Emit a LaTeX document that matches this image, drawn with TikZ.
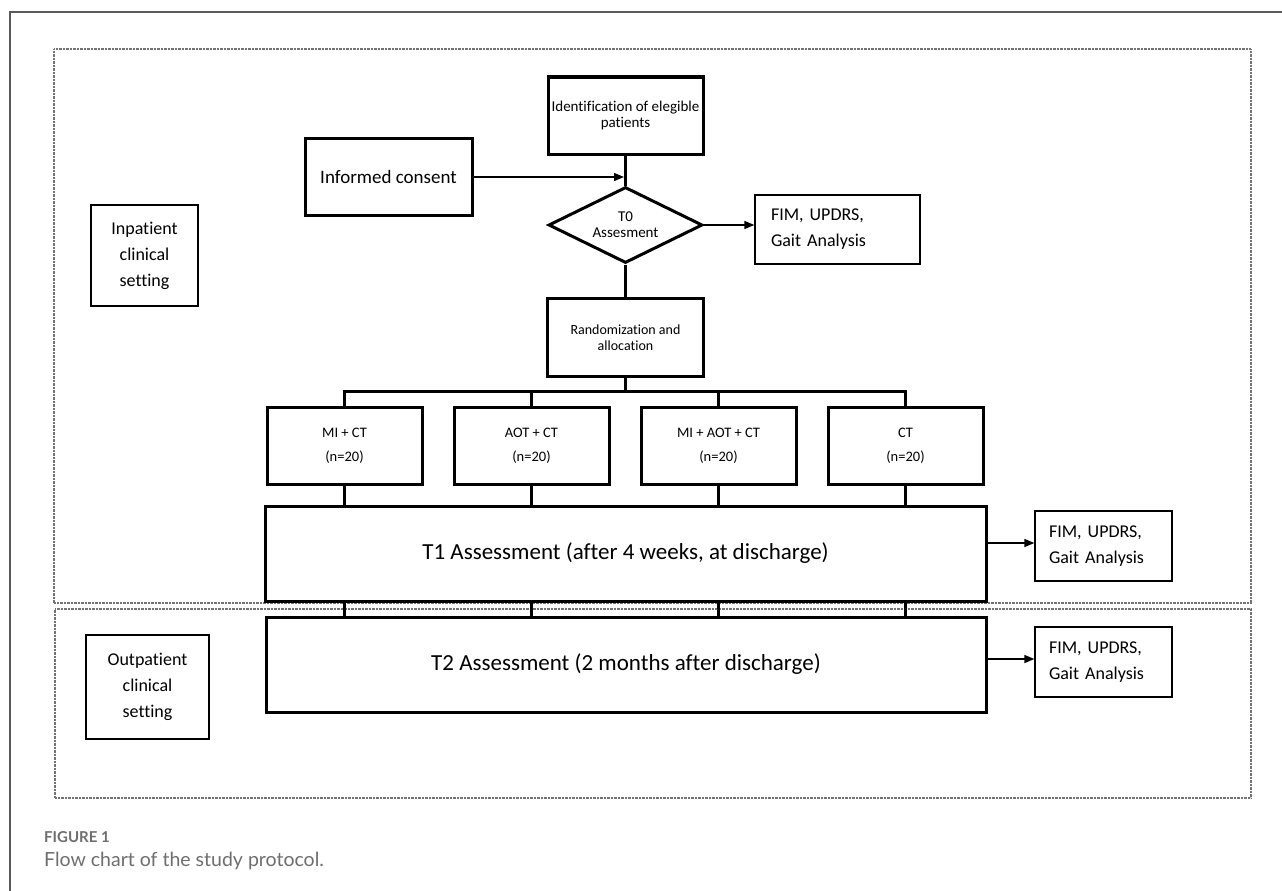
\documentclass[tikz,border=0pt]{standalone}
\usepackage{fontspec}
\setmainfont{Carlito}[Ligatures=NoCommon]
\newfontfamily\capfont{Lato}
\usetikzlibrary{shapes.geometric,arrows.meta}
\definecolor{capgray}{HTML}{6E6E6E}
\begin{document}
\begin{tikzpicture}[x=1pt,y=-1pt,
  mainbox/.style={draw,line width=3pt,rectangle,inner sep=0pt,align=center},
  thinbox/.style={draw,line width=1.3pt,rectangle,inner sep=0pt},
  tree/.style={line width=3pt},
  arr/.style={line width=1.3pt,-{Triangle[length=10pt,width=8pt]}},
  region/.style={draw=black!55,line width=1.4pt,dash pattern=on 0.7pt off 0.7pt},
]
\useasboundingbox (0,0) rectangle (1282,891);
% outer frame
\draw[line width=2pt,draw=black!65] (10,891) -- (10,12) -- (1282,12);
% regions
\node[region,rectangle,minimum width=1197pt,minimum height=554pt,inner sep=0pt] (inreg) at (652.5,326) {};
\node[region,rectangle,minimum width=1196pt,minimum height=189pt,inner sep=0pt] (outreg) at (653,703.5) {};
% labels
\node[thinbox,minimum width=107pt,minimum height=101pt,align=center,font=\fontsize{18}{26}\selectfont] (inlab) at (144.5,255.5) {Inpatient\\clinical\\setting};
\node[thinbox,minimum width=123pt,minimum height=104pt,align=center,font=\fontsize{18}{26}\selectfont] (outlab) at (147.5,687) {Outpatient\\clinical\\setting};
% top chain
\node[mainbox,minimum width=155pt,minimum height=77pt,font=\fontsize{15}{15.5}\selectfont] (ident) at (625.5,115.5) {Identification of elegible\\patients};
\node[mainbox,minimum width=167pt,minimum height=77pt,font=\fontsize{19}{20}\selectfont] (consent) at (388.5,177) {Informed consent};
\node[draw,line width=3pt,diamond,aspect=2,inner sep=0pt,minimum width=154pt,minimum height=76pt,align=center,font=\fontsize{15}{16}\selectfont] (t0) at (625.5,225) {T0\\Assesment};
\node[thinbox,minimum width=165pt,minimum height=69pt,text width=133pt,align=left,font=\fontsize{18}{26}\selectfont] (fim1) at (837.5,229.5) {FIM, UPDRS,\\Gait Analysis};
\node[mainbox,minimum width=156pt,minimum height=78pt,font=\fontsize{14}{16}\selectfont] (rand) at (625.5,337.5) {Randomization and\\allocation};
% groups
\node[mainbox,minimum width=155pt,minimum height=77pt,font=\fontsize{14.5}{24}\selectfont] (g1) at (344.5,445.5) {MI + CT\\(n=20)};
\node[mainbox,minimum width=155pt,minimum height=77pt,font=\fontsize{14.5}{24}\selectfont] (g2) at (531.5,445.5) {AOT + CT\\(n=20)};
\node[mainbox,minimum width=155pt,minimum height=77pt,font=\fontsize{14.5}{24}\selectfont] (g3) at (718.5,445.5) {MI + AOT + CT\\(n=20)};
\node[mainbox,minimum width=155pt,minimum height=77pt,font=\fontsize{14.5}{24}\selectfont] (g4) at (905.5,445.5) {CT\\(n=20)};
% assessments
\node[mainbox,minimum width=721pt,minimum height=95pt,font=\fontsize{23}{25}\selectfont] (t1) at (625.5,553.5) {T1 Assessment (after 4 weeks, at discharge)};
\node[mainbox,minimum width=720pt,minimum height=95pt,font=\fontsize{23}{25}\selectfont] (t2) at (626,664.5) {T2 Assessment (2 months after discharge)};
\node[thinbox,minimum width=137pt,minimum height=70pt,text width=109pt,align=left,font=\fontsize{18}{26}\selectfont] (fim2) at (1103.5,546) {FIM, UPDRS,\\Gait Analysis};
\node[thinbox,minimum width=137pt,minimum height=70pt,text width=109pt,align=left,font=\fontsize{18}{26}\selectfont] (fim3) at (1103.5,662) {FIM, UPDRS,\\Gait Analysis};
% connectors
\draw[tree] (ident.south) -- (t0.north);
\draw[arr,shorten >=1.5pt] (consent.east) -- (consent.east -| ident.south);
\draw[arr] (t0.east) -- (t0.east -| fim1.west);
\draw[tree] (t0.south) -- (rand.north);
\coordinate (bus) at (625.5,391);
\draw[tree] (rand.south) -- (bus);
\draw[tree] (g1.north) -- (g1.north |- bus) -- (g4.north |- bus) -- (g4.north);
\draw[tree] (g2.north) -- (g2.north |- bus);
\draw[tree] (g3.north) -- (g3.north |- bus);
\foreach \g in {g1,g2,g3,g4}{
  \draw[tree] (\g.south) -- (\g.south |- t1.north);
  \draw[tree] (t1.south -| \g) -- (t2.north -| \g);
}
\draw[arr] (t1.east |- 0,543) -- (fim2.west |- 0,543);
\draw[arr] (t2.east |- 0,659) -- (fim3.west |- 0,659);
% caption
\node[anchor=west,inner sep=0pt,text=capgray,font=\capfont\bfseries\fontsize{15}{16}\selectfont] (figlab) at (44,837) {FIGURE 1};
\node[anchor=west,inner sep=0pt,text=capgray,font=\capfont\fontsize{19.5}{21}\selectfont] (caption) at (44,861) {Flow chart of the study protocol.};
\end{tikzpicture}
\end{document}
